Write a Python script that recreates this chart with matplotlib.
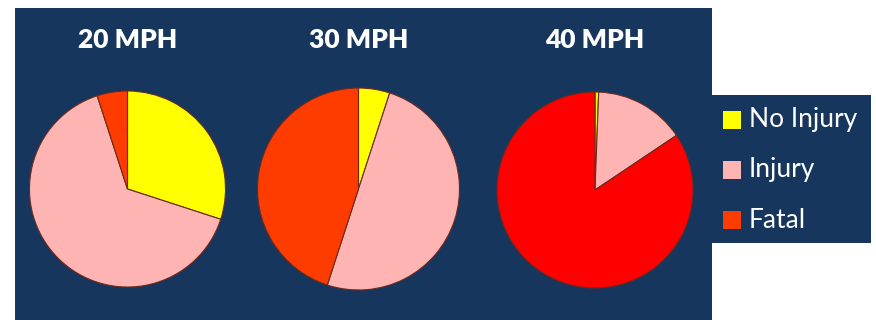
"""
Crash outcome by impact speed - three pie charts
"""

import matplotlib
matplotlib.use("Agg")
import matplotlib.pyplot as plt
from matplotlib.patches import Rectangle

# data (% of pedestrians)
speeds = ["20 MPH", "30 MPH", "40 MPH"]
outcomes = ["No Injury", "Injury", "Fatal"]
no_injury = [30, 5, 0.6]
injury = [65, 50, 15]
fatal = [5, 45, 84.4]

NAVY = "#17365d"
outcome_colors = ["#ffff00", "#ffb4b4", "#ff3c00"]
# the 40 MPH chart paints Fatal in pure red
pie_colors = [outcome_colors, outcome_colors, ["#ffff00", "#ffb4b4", "#ff0000"]]

W, H = 876, 320
fig = plt.figure(figsize=(W / 100, H / 100), dpi=100)
fig.patch.set_facecolor("white")

# navy panel and legend box
fig.patches.append(Rectangle((15 / W, 0), (712 - 15) / W, 1 - 8 / H,
                             transform=fig.transFigure, facecolor=NAVY,
                             edgecolor="none", zorder=-2))
fig.patches.append(Rectangle((712 / W, 1 - 243 / H), (871 - 712) / W, (243 - 95) / H,
                             transform=fig.transFigure, facecolor=NAVY,
                             edgecolor="none", zorder=-2))

centers = [(127.5, 189), (358.5, 189), (595, 190)]
radii = [98, 101, 98]

for i, name in enumerate(speeds):
    cx, cy = centers[i]
    r = radii[i] + 1
    ax = fig.add_axes([(cx - r) / W, (H - cy - r) / H, 2 * r / W, 2 * r / H])
    ax.set_zorder(2)
    vals = [no_injury[i], injury[i], fatal[i]]
    ax.pie(vals, colors=pie_colors[i], startangle=90, counterclock=False,
           radius=1, wedgeprops=dict(edgecolor="#6b2a1e", linewidth=0.8))
    ax.set_xlim(-1.01, 1.01)
    ax.set_ylim(-1.01, 1.01)
    ax.set_aspect("equal")
    ax.axis("off")
    fig.text(cx / W, 1 - 40 / H, name, color="white", fontsize=19,
             fontweight="heavy", family="Lato", ha="center", va="center")

# legend
for j, lab in enumerate(outcomes):
    y = 120 + j * 50
    fig.patches.append(Rectangle((723 / W, 1 - (y + 9) / H), 18 / W, 18 / H,
                                 transform=fig.transFigure,
                                 facecolor=outcome_colors[j], edgecolor="none"))
    fig.text(749 / W, 1 - y / H, lab, color="white", fontsize=19,
             family="Lato", ha="left", va="center")

plt.savefig("out.png", dpi=100, facecolor=fig.get_facecolor())
